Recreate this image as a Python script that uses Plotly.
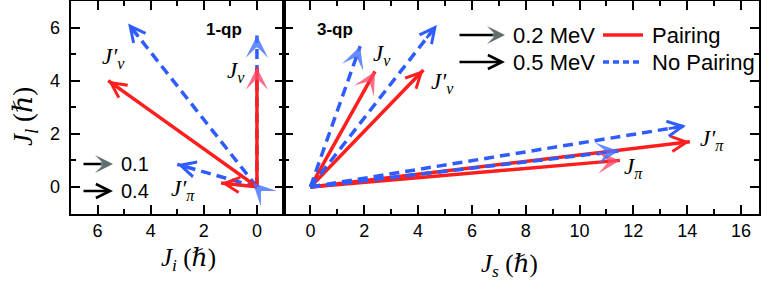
import math
import plotly.graph_objects as go

W, H = 763, 283

# ---------------- data ----------------
# 1-qp panel: vector tips (J_i, J_l) in hbar ; omega in MeV
qp1_pair_names = ["Jnu", "Jnu'", "Jpi'"]
qp1_pair_omega = [0.1, 0.4, 0.4]
qp1_pair_ji = [0.0, 5.6, 1.35]
qp1_pair_jl = [4.5, 4.0, 0.15]

qp1_nopair_names = ["Jnu", "Jnu'", "Jpi", "Jpi'"]
qp1_nopair_omega = [0.1, 0.4, 0.1, 0.4]
qp1_nopair_ji = [0.0, 4.85, 0.15, 3.0]
qp1_nopair_jl = [5.7, 6.15, 0.15, 0.85]

# 3-qp panel: vector tips (J_s, J_l) in hbar
qp3_pair_names = ["Jnu", "Jnu'", "Jpi", "Jpi'"]
qp3_pair_omega = [0.2, 0.5, 0.2, 0.5]
qp3_pair_js = [2.4, 4.2, 11.5, 14.1]
qp3_pair_jl = [4.35, 4.4, 1.0, 1.7]

qp3_nopair_names = ["Jnu", "Jnu'", "Jpi", "Jpi'"]
qp3_nopair_omega = [0.2, 0.5, 0.2, 0.5]
qp3_nopair_js = [1.85, 4.7, 11.45, 13.95]
qp3_nopair_jl = [5.3, 6.1, 1.35, 2.3]

qp1_omega_legend = [0.1, 0.4]
qp3_omega_legend = [0.2, 0.5]
series_names = ["Pairing", "No Pairing"]

x1_ticks = [0, 2, 4, 6]
x2_ticks = [0, 2, 4, 6, 8, 10, 12, 14, 16]
y_ticks = [0, 2, 4, 6]

# ---------------- styles ----------------
RED = "#ff1e1e"
BLUE = "#2f5cff"
RED_HEAD = "rgba(255,70,105,0.78)"
BLUE_HEAD = "rgba(70,115,255,0.82)"
GRAY_HEAD = "#5f6f70"
LW = 3.5
DASH = "10px,6px"
SANS = "Liberation Sans, Arial, sans-serif"
SERIF = "Liberation Serif, DejaVu Serif, serif"


def px(p):
    return p / W


def py(p):
    return 1 - p / H


fig = go.Figure()
annotations = []
shapes = []


def add_vectors(xs, ys, omegas, color, head_color, dash, xa, ya, name):
    low = min(omegas)
    for vx, vy, om in zip(xs, ys, omegas):
        fig.add_trace(go.Scatter(
            x=[0, vx], y=[0, vy], mode="lines",
            line=dict(color=color, width=LW, dash=dash),
            name=name, showlegend=False,
            hoverinfo="skip", xaxis=xa, yaxis=ya))
        filled = om == low
        L = math.hypot(vx, vy)
        ux, uy = vx / L, vy / L
        if filled:
            ah, asz, aw, col, shaft = 3, 1.25, 3, head_color, 0.5
        else:
            ah, asz, aw, col, shaft = 5, 1.15, 2.6, color, 0.7
        annotations.append(dict(
            x=vx, y=vy, ax=vx - ux * shaft, ay=vy - uy * shaft,
            xref=xa, yref=ya, axref=xa, ayref=ya, text="",
            showarrow=True, arrowhead=ah, arrowsize=asz, arrowwidth=aw,
            arrowcolor=col))


add_vectors(qp1_nopair_ji, qp1_nopair_jl, qp1_nopair_omega, BLUE, BLUE_HEAD, DASH,
            "x", "y", series_names[1])
add_vectors(qp1_pair_ji, qp1_pair_jl, qp1_pair_omega, RED, RED_HEAD, "solid",
            "x", "y", series_names[0])
add_vectors(qp3_pair_js, qp3_pair_jl, qp3_pair_omega, RED, RED_HEAD, "solid",
            "x2", "y2", series_names[0])
add_vectors(qp3_nopair_js, qp3_nopair_jl, qp3_nopair_omega, BLUE, BLUE_HEAD, DASH,
            "x2", "y2", series_names[1])


# ---------------- omega keys (arrows) ----------------
def omega_key(x0, x1, yc, filled, label, size):
    if filled:
        annotations.append(dict(x=px(x1 - 8), y=py(yc), xref="paper", yref="paper",
                                ax=-(x1 - 8 - x0), ay=0, text="", showarrow=True,
                                arrowhead=0, arrowwidth=2.6, arrowcolor="black"))
        annotations.append(dict(x=px(x1), y=py(yc), xref="paper", yref="paper",
                                ax=-14, ay=0, text="", showarrow=True, arrowhead=3,
                                arrowsize=1.0, arrowwidth=3, arrowcolor=GRAY_HEAD))
    else:
        annotations.append(dict(x=px(x1), y=py(yc), xref="paper", yref="paper",
                                ax=-(x1 - x0), ay=0, text="", showarrow=True,
                                arrowhead=5, arrowsize=1.15, arrowwidth=2.4,
                                arrowcolor="black"))
    annotations.append(dict(x=px(x1 + 6), y=py(yc), xref="paper", yref="paper",
                            text=label, showarrow=False, xanchor="left",
                            yanchor="middle", font=dict(family=SANS, size=size,
                                                        color="black")))


omega_key(82, 113, 164, True, f"{qp1_omega_legend[0]}", 20)
omega_key(82, 113, 191, False, f"{qp1_omega_legend[1]}", 20)
omega_key(458, 505, 35, True, f"{qp3_omega_legend[0]} MeV", 22)
omega_key(458, 505, 62, False, f"{qp3_omega_legend[1]} MeV", 22)

# ---------------- series key ----------------
for yc, color, dash, name in [(35, RED, "solid", series_names[0]),
                              (62, BLUE, "dash", series_names[1])]:
    shapes.append(dict(type="line", xref="paper", yref="paper",
                       x0=px(603), x1=px(643), y0=py(yc), y1=py(yc),
                       line=dict(color=color, width=LW,
                                 dash=("solid" if dash == "solid" else "6px,4px"))))
    annotations.append(dict(x=px(650), y=py(yc), xref="paper", yref="paper",
                            text=name, showarrow=False, xanchor="left",
                            yanchor="middle",
                            font=dict(family=SANS, size=22, color="black")))

# ---------------- y tick labels (placed through the y axis scale) ----------------
for t in y_ticks:
    annotations.append(dict(x=px(62), y=t, xref="paper", yref="y",
                            text=str(t), showarrow=False, xanchor="right",
                            yanchor="middle",
                            font=dict(family=SANS, size=18, color="black")))


# ---------------- text labels ----------------
def text(xc, yc, s, size, family, bold=False, angle=0):
    annotations.append(dict(x=px(xc), y=py(yc), xref="paper", yref="paper",
                            text=(f"<b>{s}</b>" if bold else s), showarrow=False,
                            xanchor="center", yanchor="middle", textangle=angle,
                            font=dict(family=family, size=size, color="black")))


text(224, 29, "1-qp", 17, SANS, bold=True)
text(335, 30, "3-qp", 17, SANS, bold=True)

JNU = "<i>J<sub>ν</sub></i>"
JNUP = "<i>J′<sub>ν</sub></i>"
JPI = "<i>J<sub>π</sub></i>"
JPIP = "<i>J′<sub>π</sub></i>"
text(113, 58, JNUP, 23, SERIF)
text(236, 72, JNU, 23, SERIF)
text(183, 190, JPIP, 23, SERIF)
text(382, 55, JNU, 23, SERIF)
text(442, 83, JNUP, 23, SERIF)
text(712, 140, JPIP, 23, SERIF)
text(633, 168, JPI, 23, SERIF)

text(188, 259, "<i>J<sub>i</sub></i> (<i>ℏ</i>)", 25, SERIF)
text(509, 265, "<i>J<sub>s</sub></i> (<i>ℏ</i>)", 25, SERIF)
text(25, 117, "<i>J<sub>l</sub></i> (<i>ℏ</i>)", 27, SERIF, angle=-90)

# ---------------- axes ----------------
common = dict(showline=True, linecolor="black", linewidth=2, mirror="ticks",
              ticks="inside", ticklen=9, tickwidth=2, tickcolor="black",
              showgrid=False, zeroline=False, automargin=False,
              tickfont=dict(family=SANS, size=18, color="black"),
              minor=dict(ticks="inside", ticklen=5, tickwidth=2,
                         tickcolor="black", dtick=1, showgrid=False))

fig.update_layout(
    width=W, height=H, margin=dict(l=0, r=0, t=0, b=0, autoexpand=False),
    paper_bgcolor="white", plot_bgcolor="white", showlegend=False,
    xaxis=dict(domain=[px(71), px(283.5)], range=[7, -1], tickvals=x1_ticks,
               anchor="y", **common),
    yaxis=dict(domain=[py(213.5), py(1)], range=[-1, 7], tickvals=y_ticks,
               anchor="x", showticklabels=False, **common),
    xaxis2=dict(domain=[px(283.5), px(758.5)], range=[-1, 16.65],
                tickvals=x2_ticks, anchor="y2", **common),
    yaxis2=dict(domain=[py(213.5), py(1)], range=[-1, 7], tickvals=y_ticks,
                anchor="x2", showticklabels=False, **common),
    annotations=annotations,
    shapes=shapes,
)

fig.write_html("out.html",
               config={"displayModeBar": False},
               post_script="document.body.style.margin='0';"
                           "document.body.style.padding='0';")
